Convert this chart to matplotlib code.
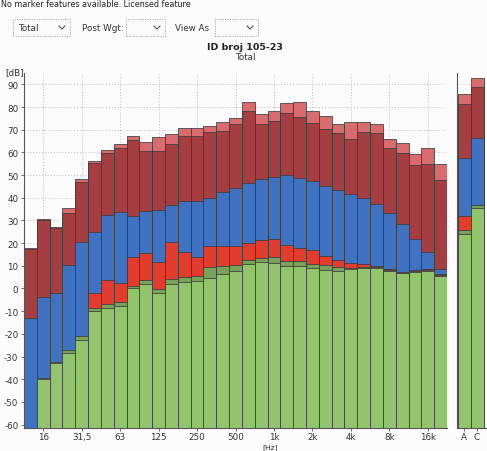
import numpy as np
import matplotlib
matplotlib.use("Agg")
import matplotlib.pyplot as plt
from matplotlib.patches import Rectangle
from matplotlib.lines import Line2D

# 1/3-octave bands 12.5 Hz .. 20 kHz
bands = ["12.5", "16", "20", "25", "31.5", "40", "50", "63", "80", "100", "125",
         "160", "200", "250", "315", "400", "500", "630", "800", "1k", "1.25k",
         "1.6k", "2k", "2.5k", "3.15k", "4k", "5k", "6.3k", "8k", "10k", "12.5k",
         "16k", "20k"]
tick_bands = ["16", "31.5", "63", "125", "250", "500", "1k", "2k", "4k", "8k", "16k"]
tick_labels = ["16", "31,5", "63", "125", "250", "500", "1k", "2k", "4k", "8k", "16k"]

# level layers [dB], top to bottom as seen in each bar
lvl_max = [17.7, 30.5, 26.9, 35.5, 48.1, 56.2, 61.0, 63.8, 67.2, 64.7, 66.6, 68.2, 70.7,
           70.7, 71.7, 73.3, 75.3, 82.1, 76.8, 78.1, 81.9, 82.3, 78.1, 76.0, 72.6, 73.3,
           73.2, 72.6, 66.0, 64.0, 59.5, 62.0, 55.0]
lvl_dark = [17.3, 30.1, 26.6, 33.5, 46.9, 55.4, 59.6, 62.1, 65.4, 60.5, 60.7, 63.8, 67.2,
            67.2, 68.9, 69.4, 72.3, 78.2, 72.3, 73.7, 77.4, 75.8, 73.0, 70.4, 68.6, 66.1,
            69.0, 68.6, 62.1, 59.8, 54.5, 54.9, 47.7]
lvl_blue = [-13.2, -3.7, -2.0, 10.2, 20.6, 24.9, 32.5, 33.7, 31.8, 34.2, 34.8, 37.0, 38.4,
            38.4, 39.9, 42.4, 44.3, 46.6, 48.1, 49.0, 50.0, 48.7, 47.2, 45.0, 43.3, 41.6,
            39.8, 37.3, 33.1, 28.3, 21.9, 16.3, 8.6]
lvl_red = [-62, -62, -62, -62, -62, -2.1, 3.8, 2.3, 14.0, 15.8, 11.8, 20.6, 15.9,
           14.0, 18.8, 18.8, 18.8, 20.2, 21.5, 21.7, 19.1, 18.0, 16.8, 14.4, 12.5, 11.4,
           10.6, 9.9, 8.6, 7.4, 8.1, 8.6, 6.4]
lvl_dgreen = [-62, -39.5, -32.5, -27.0, -21.1, -8.4, -6.9, -6.0, 1.3, 3.8, -0.2, 4.2, 5.2,
              5.7, 9.6, 10.1, 10.3, 12.5, 13.3, 13.7, 12.3, 12.0, 11.0, 10.3, 9.6, 9.2,
              9.6, 9.3, 8.1, 7.0, 7.7, 8.0, 6.0]
lvl_green = [-62, -40.0, -33.0, -28.6, -22.6, -10.0, -8.4, -7.5, 0.0, 1.9, -1.8, 2.0, 2.8,
             3.1, 4.6, 6.4, 7.9, 11.0, 11.5, 11.2, 10.1, 9.8, 9.2, 8.3, 7.9, 8.6,
             8.9, 8.9, 7.7, 6.7, 7.4, 7.7, 5.7]

# broadband A / C
wgt = ["A", "C"]
wgt_max = [85.7, 92.8]
wgt_dark = [81.3, 88.7]
wgt_blue = [57.6, 66.4]
wgt_red = [31.9, 37.0]
wgt_dgreen = [25.7, 37.0]
wgt_green = [24.0, 35.5]

colors = ["#d86b6e", "#a53e41", "#4072c2", "#e13c2e", "#78a25a", "#92c46d"]
BASE = -62
YMIN, YMAX = -61.5, 95

W, H = 487, 452
fig = plt.figure(figsize=(W / 100, H / 100), dpi=100)
fig.patch.set_facecolor("#fcfcfc")


def draw_layers(ax, x, layers):
    for vals, c in zip(layers, colors):
        v = np.asarray(vals, dtype=float)
        ax.bar(x, v - BASE, bottom=BASE, width=1.0, color=c,
               edgecolor="#3a3a3a", linewidth=0.55, zorder=2)


def style_axes(ax):
    ax.set_facecolor("#fcfcfc")
    ax.set_ylim(YMIN, YMAX)
    for s in ("top", "right"):
        ax.spines[s].set_visible(False)
    ax.spines["left"].set_color("#555555")
    ax.spines["bottom"].set_color("#555555")
    ax.spines["left"].set_linewidth(0.8)
    ax.spines["bottom"].set_linewidth(0.8)
    ax.tick_params(length=2.5, width=0.6, color="#555555", labelsize=6.3,
                   labelcolor="#333333", pad=1.5)
    ax.tick_params(axis="x", length=2, pad=1.0)


ax = fig.add_axes([24 / W, 23 / H, 423 / W, 355 / H])
style_axes(ax)
x = np.arange(len(bands))
draw_layers(ax, x, [lvl_max, lvl_dark, lvl_blue, lvl_red, lvl_dgreen, lvl_green])
ax.set_xlim(-0.5, len(bands) - 0.5)
ax.set_xticks([bands.index(b) for b in tick_bands])
ax.set_xticklabels(tick_labels)
yt = np.arange(-60, 91, 10)
ax.set_yticks(yt)
ax.set_yticklabels([str(v) for v in yt])
ax.grid(True, linestyle=(0, (1, 2)), color="#bbbbbb", linewidth=0.7, zorder=0)
ax.set_axisbelow(True)

ax2 = fig.add_axes([457 / W, 23 / H, 29 / W, 355 / H])
style_axes(ax2)
draw_layers(ax2, np.arange(2), [wgt_max, wgt_dark, wgt_blue, wgt_red, wgt_dgreen, wgt_green])
ax2.set_xlim(-0.54, 1.69)
ax2.set_xticks(np.arange(2))
ax2.set_xticklabels(wgt)
ax2.set_yticks(yt)
ax2.set_yticklabels([])
ax2.tick_params(axis="y", length=0)
ax2.grid(True, axis="y", linestyle=(0, (1, 2)), color="#bbbbbb", linewidth=0.7, zorder=0)
ax2.set_axisbelow(True)

# header / labels
fig.text(1 / W, 1 - 4.5 / H, "No marker features available. Licensed feature",
         fontsize=5.8, color="#222222", va="center", ha="left")
fig.text(245 / W, 1 - 47 / H, "ID broj 105-23", fontsize=6.8, fontweight="bold",
         color="#222222", ha="center", va="center")
fig.text(245 / W, 1 - 57 / H, "Total", fontsize=6.3, color="#333333",
         ha="center", va="center")
fig.text(5 / W, 1 - 73 / H, "[dB]", fontsize=6.3, color="#333333", va="center")
fig.text(270 / W, 0.5 / H, "[Hz]", fontsize=5.4, color="#333333",
         ha="center", va="bottom")

# combo boxes of the viewer toolbar
boxes = [(13, 70, "Total"), (126, 165, ""), (215, 258, "")]
for x0, x1, label in boxes:
    fig.add_artist(Rectangle((x0 / W, 1 - 37 / H), (x1 - x0) / W, 17 / H,
                             transform=fig.transFigure, fill=False,
                             edgecolor="#999999", linestyle=(0, (1, 1.5)), linewidth=0.7))
    cx = x1 - 8
    fig.add_artist(Line2D([(cx - 3) / W, cx / W, (cx + 3) / W],
                          [1 - 27 / H, 1 - 30 / H, 1 - 27 / H],
                          transform=fig.transFigure, color="#555555", linewidth=0.8))
    if label:
        fig.text((x0 + 5) / W, 1 - 28.5 / H, label, fontsize=6.3, color="#333333",
                 va="center")
fig.text(82 / W, 1 - 28.5 / H, "Post Wgt:", fontsize=6.3, color="#333333", va="center")
fig.text(175 / W, 1 - 28.5 / H, "View As", fontsize=6.3, color="#333333", va="center")

fig.savefig("out.png", dpi=100, facecolor=fig.get_facecolor())
